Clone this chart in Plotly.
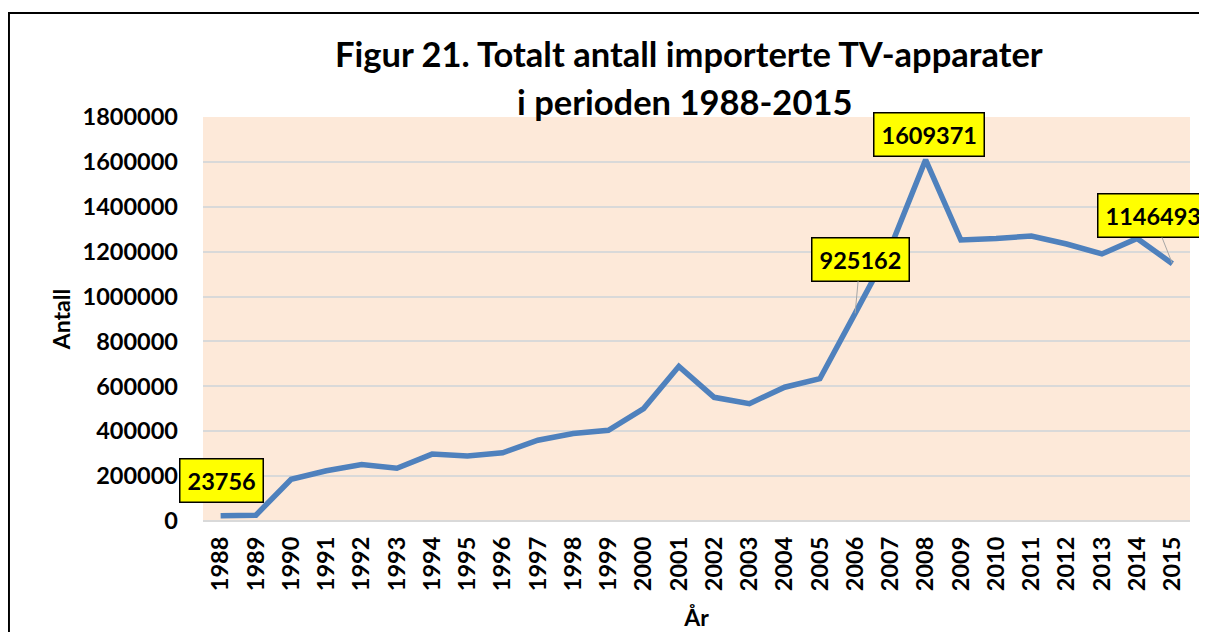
import plotly.graph_objects as go

years = list(range(1988, 2016))
antall = [23756, 26000, 186000, 224000, 252000, 235000, 298000, 290000, 304000,
          360000, 390000, 404000, 501000, 689000, 551000, 523000, 596000, 634000,
          925162, 1218000, 1609371, 1252000, 1259000, 1270000, 1234000, 1190000,
          1259000, 1146493]

title_line1 = "Figur 21. Totalt antall importerte TV-apparater"
title_line2 = "i perioden 1988-2015"
x_title = "År"
y_title = "Antall"

FONT = "Lato"
fig = go.Figure()
fig.add_trace(go.Scatter(
    x=years, y=antall, mode="lines",
    line=dict(color="#4F81BD", width=5.5),
    hoverinfo="x+y", showlegend=False,
))

# data labels: (index, xshift/ax, yshift/ay, arrow)
label_specs = [
    (0, 1, 35, False),
    (18, 5, -54, True),
    (20, 3, 25, False),
    (27, -19, -48, True),
]
annotations = []
for idx, dx, dy, arrow in label_specs:
    a = dict(
        x=years[idx], y=antall[idx], xref="x", yref="y",
        text="<b>%d</b>" % antall[idx],
        font=dict(family=FONT, size=23.5, color="black"),
        bgcolor="#FFFF00", bordercolor="black", borderwidth=1.5, borderpad=7,
    )
    if arrow:
        a.update(showarrow=True, ax=dx, ay=dy, arrowhead=0, arrowwidth=1,
                 arrowcolor="#A6A6A6", standoff=0)
    else:
        a.update(showarrow=False, xshift=dx, yshift=dy)
    annotations.append(a)

annotations.append(dict(text="<b>%s</b>" % title_line1, xref="paper", yref="paper",
                        x=0.492, y=1.158, xanchor="center", yanchor="middle",
                        showarrow=False, font=dict(family=FONT, size=34.5, color="black")))
annotations.append(dict(text="<b>%s</b>" % title_line2, xref="paper", yref="paper",
                        x=0.488, y=1.0396, xanchor="center", yanchor="middle",
                        showarrow=False, font=dict(family=FONT, size=34.5, color="black")))

fig.update_layout(
    width=1207, height=632,
    margin=dict(l=195, r=25, t=109, b=119),
    paper_bgcolor="white",
    plot_bgcolor="#FDE9D9",
    annotations=annotations,
    shapes=[dict(type="rect", xref="paper", yref="paper",
                 x0=-0.1966, x1=1.1, y0=-0.4, y1=1.2574,
                 line=dict(color="black", width=2), fillcolor="rgba(0,0,0,0)",
                 layer="below")],
    font=dict(family=FONT, color="black"),
)
fig.update_xaxes(
    range=[1987.5, 2015.5], tickmode="linear", tick0=1988, dtick=1, tickangle=-90,
    tickformat="d",
    tickfont=dict(family=FONT, size=23.5, color="black", weight="bold"),
    showgrid=False, showline=False, zeroline=False, ticks="", ticklabelstandoff=10,
    title=dict(text="<b>%s</b>" % x_title, font=dict(family=FONT, size=23, color="black"),
               standoff=19),
)
fig.update_yaxes(
    range=[0, 1800000], dtick=200000, tickformat="d",
    tickfont=dict(family=FONT, size=23.5, color="black", weight="bold"),
    showgrid=True, gridcolor="#D9D9D9", gridwidth=1.5,
    zeroline=True, zerolinecolor="#D9D9D9", zerolinewidth=1.5,
    showline=False, ticks="", ticklabelstandoff=24,
    title=dict(text="<b>%s</b>" % y_title, font=dict(family=FONT, size=23, color="black"),
               standoff=5),
)

fig.write_html("out.html")
